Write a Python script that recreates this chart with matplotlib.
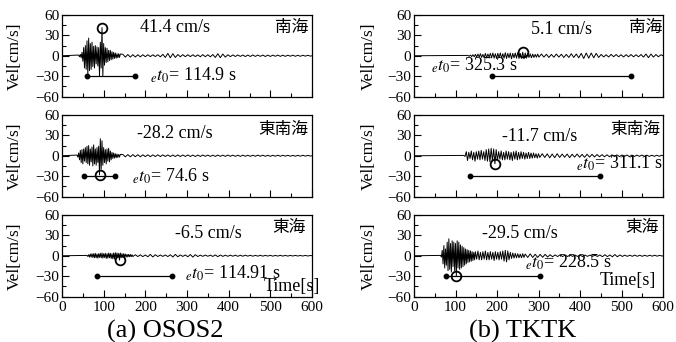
import numpy as np
import matplotlib.pyplot as plt

plt.rcParams['font.family'] = ['Liberation Serif', 'Noto Sans CJK JP']
plt.rcParams['mathtext.fontset'] = 'stix'

# waveform peaks: (start time, step, peak values)
osos_nankai = [
    (40, 2, [1, -1.5, 2, -3, 5, -8, 12, -18, 15, -20,
             22, -29, 26, -22, 18, -20, 20, -16, 14, -18,
             15, -12, 13, -15, 12, -30, 20, -18, 41.4, -30,
             18, -14, 12, -10, 11, -9, 8, -7, 8, -6,
             6, -5, 5, -4, 4, -3.5, 3, -3, 3, -2.5, 2.5]),
    (146, 6, [2.2, -2, 1.8, -2, 1.6, -1.8, 1.5, -1.6, 1.5, -1.4,
              1.5, -1.3, 1.4, -1.2, 1.5, -1.6, 2, -2.5, 3.5, -3,
              3, -2.5, 1.8, -1.5, 1.6, -1.4, 1.5, -1.3, 1.4, -1.2,
              1.3, -1.5, 1.6, -1.4, 1.5, -1.6, 1.8, -2.5, 3, -2.8,
              2.5, -2, 1.5, -1.3, 1.2, -1.1, 1.2, -1, 1.1, -1.2,
              1, -1.1, 1.2, -1, 1, -0.9, 1, -1.1, 0.9, -1,
              0.9, -0.8, 1, -0.9, 0.8, -0.9, 0.8, -0.7, 0.8, -0.8,
              0.7, -0.8, 0.7, -0.6, 0.7, -0.6]),
]
osos_tonankai = [
    (36, 2, [1, -2, 4, -6, 8, -10, 9, -12, 10, -8,
             12, -10, 14, -12, 15, -14, 10, -9, 13, -15,
             16, -12, 10, -14, 12, -10, 14, -28.2, 25, -20,
             22, -14, 12, -10, 9, -12, 10, -8, 11, -9,
             7, -6, 5, -4, 4, -3.5, 3, -3, 2.5, -2.5, 2, -2, 2]),
    (146, 6, [1.8, -1.6, 1.7, -1.5, 1.6, -1.4, 1.5, -1.5, 1.4, -1.3,
              1.4, -1.3, 1.3, -1.2, 1.4, -1.2, 1.3, -1.1, 1.2, -1.2,
              1.1, -1.2, 1.2, -1.1, 1.1, -1, 1.2, -1.1, 1, -1.1,
              1, -1, 1.1, -0.9, 1, -1, 0.9, -1, 1, -0.9,
              0.9, -0.9, 1, -0.8, 0.9, -0.9, 0.8, -0.9, 0.9, -0.8,
              0.8, -0.9, 0.8, -0.8, 0.9, -0.7, 0.8, -0.8, 0.7, -0.8,
              0.7, -0.7, 0.8, -0.7, 0.7, -0.6, 0.7, -0.7, 0.6, -0.7,
              0.6, -0.6, 0.7, -0.6, 0.6, -0.5]),
]
osos_tokai = [
    (60, 2, [0.5, -1, 1.5, -2, 2.5, -2, 3, -2.5, 3, -3,
             3.5, -3, 2.5, -3.5, 3, -2.5, 3.5, -3, 4, -3.5,
             3, -2.5, 3.5, -4, 3, -3.5, 4, -3, 3.5, -4,
             3, -4.5, 4, -5, 4.5, -3.5, 4, -3, 3.5, -6.5,
             4, -3, 3, -2.5, 3, -2, 2.5, -2, 2, -1.8,
             2, -1.5, 1.8, -1.5, 1.5, -1.2]),
    (176, 6, [1.5, -1.2, 1.4, -1.3, 1.2, -1.5, 2, -1.8, 1.5, -1.2,
              1.2, -1, 1.1, -1.2, 1.5, -1.8, 2, -1.5, 1.2, -1,
              1.2, -1.5, 1.8, -2, 1.6, -1.2, 1, -0.9, 1, -0.8,
              0.9, -1, 1.2, -1.3, 1.1, -0.9, 0.8, -0.8, 0.9, -0.7,
              0.8, -0.8, 0.7, -0.7, 0.8, -0.6, 0.7, -0.7, 0.6, -0.6,
              0.7, -0.6, 0.6, -0.5, 0.6, -0.6, 0.5, -0.5, 0.6, -0.5,
              0.5, -0.5, 0.5, -0.4, 0.5, -0.4, 0.4, -0.4, 0.5, -0.4, 0.4]),
]
tktk_nankai = [
    (130, 3, [0.5, -0.8, 1, -1.2, 1.5, -1.5, 2, -2,
              2.5, -2, 3, -2.5, 2, -3, 3.5, -3, 2.5, -2,
              3.5, -3, 4, -3.5, 3, -4, 3.5, -3, 4, -3.5,
              3, -3.5, 4.5, -4, 3.5, -3, 4, -4.5, 3.5, -3,
              4, -3.5, 4.5, -4, 3.5, -4, 5.1, -4.5, 4, -3.5,
              3, -2.5, 2.8, -3, 2.5, -2.5, 2, -2.2, 2.5, -2]),
    (307, 6, [2.5, -2, 2.2, -2.5, 2, -2.2, 2.5, -2, 2.2, -2.5,
              2, -2.5, 3, -2.5, 2.5, -3, 3.5, -4, 4, -3.5,
              4, -3, 3.5, -2.5, 2, -1.8, 1.5, -1.8, 2, -1.5,
              1.8, -1.5, 1.5, -1.8, 1.6, -1.5, 1.8, -1.6, 1.5, -1.5,
              1.8, -2, 2.5, -2.8, 2.5, -2, 1.8, -1.5, 1.5]),
]
tktk_tonankai = [
    (120, 3, [0.5, -1, 6, -7, 5, -4, 7, -6, 5, -8, 6, -5,
              7, -6, 8, -5, 6, -7, 9, -8, 10, -9, 11, -8, 10, -11.7, 9, -7,
              6, -5, 7, -6, 5, -6, 7, -5, 6, -6, 5, -7, 6, -5, 7,
              -6, 5, -5, 6, -4, 5, -5, 4, -4, 5, -4, 4, -3.5, 4, -3,
              3, -3.5, 3, -2.5]),
    (309, 6, [3, -2.5, 2.8, -3, 2.5, -2.8, 3, -2.5, 2.5, -2.2,
              2.5, -2.8, 2.2, -2, 2.5, -2.2, 2, -2.3, 2.2, -2,
              2, -1.8, 1.8, -1.5, 1.6, -1.5, 1.4, -1.5, 1.3, -1.2,
              1.3, -1.2, 1.2, -1, 1.1, -1.2, 1, -1.1, 1, -0.9,
              1, -0.9, 0.9, -1, 0.8, -0.9, 0.8, -0.8, 0.8]),
]
tktk_tokai = [
    (64, 2, [0.5, -2, 8, -12, 15, -18, 10, -14, 20, -22,
             25, -20, 18, -24, 22, -16, 20, -22, 18, -29.5,
             22, -18, 20, -20, 16, -18, 14, -16, 12, -14,
             10, -12, 9, -10, 8, -9, 7, -8, 6, -7,
             5, -6, 6]),
    (151, 3, [-5, 7, -6, 5, -6, 6, -5, 7, -6, 5,
              -6, 6, -5, 5, -7, 6, -5, 5, -6, 6,
              -5, 7, -8, 8, -9, 7, -6, 5, -4, 4,
              -3.5, 3.5, -3, 3, -3, 2.5, -3, 3, -2.5, 2.5]),
    (274, 6, [-2.5, 2.8, -2.5, 2.2, -2.5, 2, -2.2, 2, -1.8, 1.5,
              -1.5, 1.3, -1.2, 1.4, -1.2, 1, -1.1, 1.2, -1, 1,
              -1, 0.9, -1.1, 1, -0.9, 1, -0.9, 0.8, -1, 1.2,
              -1.4, 1.5, -1.3, 1.2, -1.5, 1.8, -1.5, 1.2, -1, 0.9,
              -0.9, 0.8, -0.8, 0.9, -0.8, 0.7, -0.8, 0.7, -0.7, 0.7,
              -0.6, 0.7, -0.6, 0.6, -0.5]),
]

waves = [osos_nankai, osos_tonankai, osos_tokai,
         tktk_nankai, tktk_tonankai, tktk_tokai]
regions = ['南海', '東南海', '東海', '南海', '東南海', '東海']
peak_t = [96, 90, 138, 262, 195, 102]
peak_v = [41.4, -28.2, -6.5, 5.1, -11.7, -29.5]
dur_start = [60, 52, 84, 187, 134, 77]
dur_end = [174, 128, 264, 523, 447, 304]
dur_text = ['114.9', '74.6', '114.91', '325.3', '311.1', '228.5']
captions = ['(a) OSOS2', '(b) TKTK']

# text placement (data coords), per panel
pga_xy = [(186, 42), (180, 33), (272, 33), (282, 38), (213, 28), (165, 33)]
reg_xy = [(590, 42), (592, 39), (585, 42), (598, 42), (593, 39), (590, 41)]
dur_xy = [(211, -29), (168, -30), (296, -26), (40, -14), (390, -11), (268, -10)]


def trace(segments):
    t = [0.0]
    v = [0.0]
    for t0, dt, vals in segments:
        t.extend(t0 + dt * np.arange(len(vals)))
        v.extend(vals)
    t.append(600.0)
    v.append(0.0)
    return np.array(t), np.array(v)


fig = plt.figure(figsize=(6.76, 3.42), dpi=100)
W, H = 676, 342
col_left = [62, 414]
col_w = [250, 249]
row_top = [15, 115, 215]
row_h = 81.5
label_x = [-0.158, -0.148]

for i in range(6):
    col, row = divmod(i, 3)
    ax = fig.add_axes([col_left[col] / W, 1 - (row_top[row] + row_h) / H,
                       col_w[col] / W, row_h / H])
    t, v = trace(waves[i])
    ax.plot(t, v, color='black', lw=0.7)
    ax.plot([dur_start[i], dur_end[i]], [-30, -30], color='black', lw=0.9,
            marker='o', ms=3.2)
    ax.plot(peak_t[i], peak_v[i], 'o', mfc='none', mec='black', ms=7, mew=1.3)

    ax.text(*pga_xy[i], f'{peak_v[i]} cm/s', fontsize=13, va='center')
    ax.text(*reg_xy[i], regions[i], fontsize=12, va='center', ha='right',
            family='Noto Sans CJK JP')
    ax.text(*dur_xy[i], r'${}_{e}t_{0}$' + f'= {dur_text[i]} s', fontsize=13,
            va='center')

    ax.set_xlim(0, 600)
    ax.set_ylim(-60, 60)
    ax.set_xticks(np.arange(0, 601, 100))
    ax.set_xticks(np.arange(0, 601, 50), minor=True)
    ax.set_yticks([-60, -30, 0, 30, 60])
    ax.set_yticks(np.arange(-60, 61, 15), minor=True)
    ax.tick_params(which='both', direction='in', labelsize=11, width=0.8,
                   top=False, right=False, pad=2)
    ax.tick_params(which='major', length=5)
    ax.tick_params(which='minor', length=3)
    for s in ax.spines.values():
        s.set_linewidth(0.9)
    ax.set_ylabel('Vel[cm/s]', fontsize=12.5, labelpad=0)
    ax.yaxis.set_label_coords(label_x[col], 0.5)
    if row < 2:
        ax.set_xticklabels([])
    else:
        ax.tick_params(axis='x', pad=3)
        tx, ty = (620, -46) if col == 0 else (584, -37)
        ax.text(tx, ty, 'Time[s]', fontsize=13, ha='right', va='center',
                clip_on=False)

fig.text(165 / W, 1 - 331 / H, captions[0], fontsize=19, ha='center', va='center')
fig.text(523 / W, 1 - 331 / H, captions[1], fontsize=19, ha='center', va='center')

fig.savefig('out.png', dpi=100)
